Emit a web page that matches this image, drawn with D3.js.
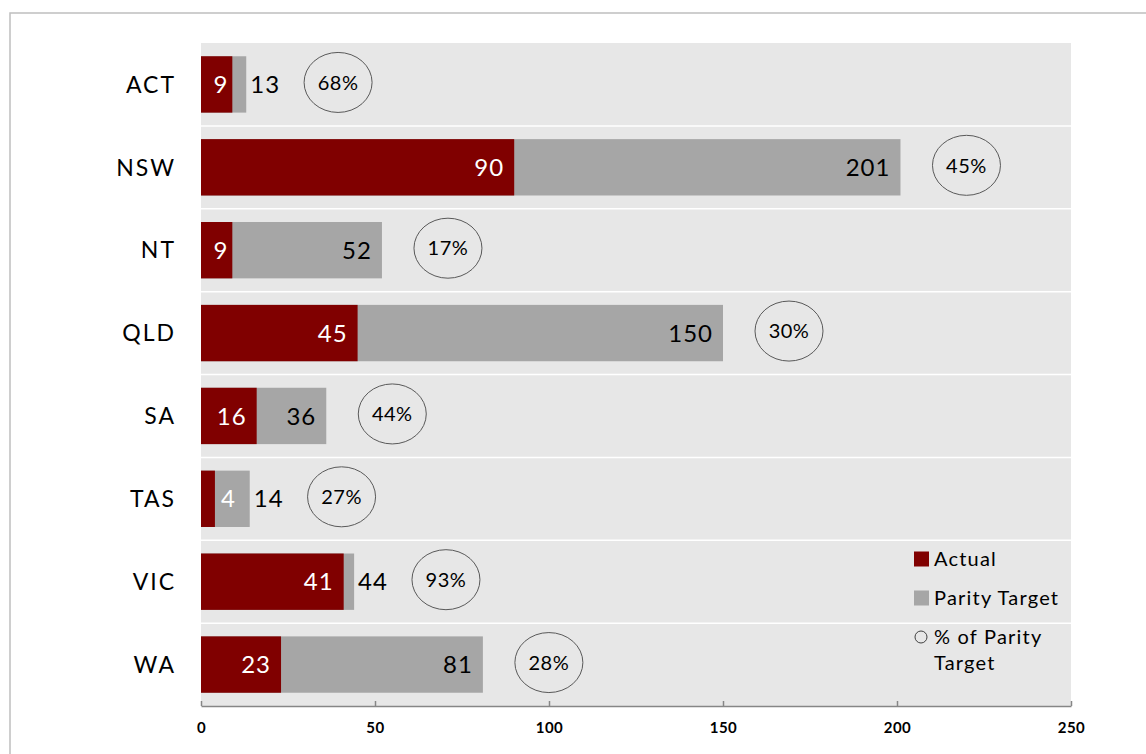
<!DOCTYPE html>
<html>
<head>
<meta charset="utf-8">
<script src="https://cdn.jsdelivr.net/npm/d3@7"></script>
<style>
  body { margin: 0; background: #fff; }
  svg { display: block; }
</style>
</head>
<body>
<div id="chart"></div>
<script>
// data
const states = ["ACT", "NSW", "NT", "QLD", "SA", "TAS", "VIC", "WA"];
const actual = [9, 90, 9, 45, 16, 4, 41, 23];
const parityTarget = [13, 201, 52, 150, 36, 14, 44, 81];
const pctOfTarget = [68, 45, 17, 30, 44, 27, 93, 28];
const xTicks = [0, 50, 100, 150, 200, 250];

const rows = states.map((s, i) => ({
  state: s, actual: actual[i], target: parityTarget[i], pct: pctOfTarget[i]
}));

const W = 1146, H = 754;
const font = "Lato, 'Open Sans', sans-serif";
const red = "#800000", grey = "#A6A6A6", bg = "#E7E7E7";

const svg = d3.select("#chart").append("svg")
  .attr("width", W).attr("height", H);

// outer frame (only top and left edges fall inside the window)
svg.append("rect")
  .attr("x", 10).attr("y", 13)
  .attr("width", 1200).attr("height", 800)
  .attr("fill", "#fff")
  .attr("stroke", "#BFBFBF").attr("stroke-width", 1.5);

const plot = { left: 201, right: 1071, top: 43, bottom: 706 };

const x = d3.scaleLinear().domain([0, 250]).range([plot.left, plot.right]);
const y = d3.scaleBand().domain(states)
  .range([plot.top, plot.bottom])
  .paddingInner(0.32).paddingOuter(0.16);

// plot background
svg.append("rect")
  .attr("x", plot.left).attr("y", plot.top)
  .attr("width", plot.right - plot.left).attr("height", plot.bottom - plot.top)
  .attr("fill", bg);

// white row separators
const gap = y.step() * y.paddingInner() / 2;
svg.append("g").selectAll("line")
  .data(states.slice(1))
  .join("line")
  .attr("x1", plot.left).attr("x2", plot.right)
  .attr("y1", d => y(d) - gap).attr("y2", d => y(d) - gap)
  .attr("stroke", "#fff").attr("stroke-width", 1.5);

// bars: grey target behind, red actual in front
svg.append("g").selectAll("rect")
  .data(rows)
  .join("rect")
  .attr("x", x(0)).attr("y", d => y(d.state))
  .attr("width", d => x(d.target) - x(0))
  .attr("height", y.bandwidth())
  .attr("fill", grey);

svg.append("g").selectAll("rect")
  .data(rows)
  .join("rect")
  .attr("x", x(0)).attr("y", d => y(d.state))
  .attr("width", d => x(d.actual) - x(0))
  .attr("height", y.bandwidth())
  .attr("fill", red);

// category labels
svg.append("g").selectAll("text")
  .data(rows)
  .join("text")
  .attr("x", 176)
  .attr("y", d => y(d.state) + y.bandwidth() / 2)
  .attr("dy", "0.36em")
  .attr("text-anchor", "end")
  .attr("font-family", font).attr("font-size", 23)
  .attr("letter-spacing", 2)
  .attr("fill", "#000")
  .text(d => d.state);

const labelSize = 24;

// target labels: inside end of the grey bar, or just outside when it doesn't fit
const tLabels = svg.append("g").selectAll("text")
  .data(rows)
  .join("text")
  .attr("y", d => y(d.state) + y.bandwidth() / 2)
  .attr("dy", "0.36em")
  .attr("font-family", font).attr("font-size", labelSize)
  .attr("letter-spacing", 1)
  .attr("fill", "#000")
  .text(d => d.target);

tLabels.each(function(d) {
  const w = this.getComputedTextLength();
  const seg = x(d.target) - x(d.actual);
  d.inside = seg > w + 14;
  if (d.inside) {
    d3.select(this).attr("x", x(d.target) - 10).attr("text-anchor", "end");
    d.end = x(d.target);
  } else {
    d3.select(this).attr("x", x(d.target) + 4).attr("text-anchor", "start");
    d.end = x(d.target) + 4 + w;
  }
});

// actual labels, white
svg.append("g").selectAll("text")
  .data(rows)
  .join("text")
  .attr("y", d => y(d.state) + y.bandwidth() / 2)
  .attr("dy", "0.36em")
  .attr("font-family", font).attr("font-size", labelSize)
  .attr("letter-spacing", 1)
  .attr("fill", "#fff")
  .text(d => d.actual)
  .each(function(d) {
    const w = this.getComputedTextLength();
    const bw = x(d.actual) - x(0);
    if (bw > w + 8) {
      d3.select(this).attr("x", x(d.actual) - (bw > w + 20 ? 10 : 4)).attr("text-anchor", "end");
    } else {
      d3.select(this).attr("x", x(d.actual) + 6).attr("text-anchor", "start");
    }
  });

// % of parity target ellipses
const pg = svg.append("g").selectAll("g")
  .data(rows)
  .join("g")
  .attr("transform", d => `translate(${d.end + (d.inside ? 66 : 58)},${y(d.state) + y.bandwidth() / 2 - 2})`);

pg.append("ellipse")
  .attr("rx", 34).attr("ry", 30)
  .attr("fill", "none")
  .attr("stroke", "#595959").attr("stroke-width", 1);

pg.append("text")
  .attr("text-anchor", "middle").attr("dy", "0.36em")
  .attr("font-family", font).attr("font-size", 20)
  .attr("letter-spacing", 0.5)
  .attr("fill", "#000")
  .text(d => d.pct + "%");

// x axis
const axis = svg.append("g")
  .attr("transform", `translate(0,${plot.bottom})`)
  .call(d3.axisBottom(x).tickValues(xTicks).tickSizeInner(-5).tickSizeOuter(0).tickPadding(16));
axis.select(".domain").attr("stroke", "#868686").attr("stroke-width", 1.5);
axis.selectAll(".tick line").attr("stroke", "#868686").attr("stroke-width", 1.5);
axis.selectAll(".tick text")
  .attr("font-family", font).attr("font-size", 15).attr("font-weight", "bold")
  .attr("letter-spacing", 0.5)
  .attr("fill", "#000");

// legend
const lg = svg.append("g").attr("font-family", font).attr("font-size", 20)
  .attr("letter-spacing", 1.2).attr("fill", "#000");
const legendItems = [
  { label: "Actual", color: red, y: 559 },
  { label: "Parity Target", color: grey, y: 598 }
];
legendItems.forEach(it => {
  lg.append("rect").attr("x", 914).attr("y", it.y - 7.5)
    .attr("width", 15).attr("height", 15).attr("fill", it.color);
  lg.append("text").attr("x", 934).attr("y", it.y).attr("dy", "0.36em").text(it.label);
});
lg.append("circle").attr("cx", 921).attr("cy", 637).attr("r", 6)
  .attr("fill", "none").attr("stroke", "#404040").attr("stroke-width", 1);
lg.append("text").attr("x", 934).attr("y", 637).attr("dy", "0.36em").text("% of Parity");
lg.append("text").attr("x", 934).attr("y", 663).attr("dy", "0.36em").text("Target");
</script>
</body>
</html>
